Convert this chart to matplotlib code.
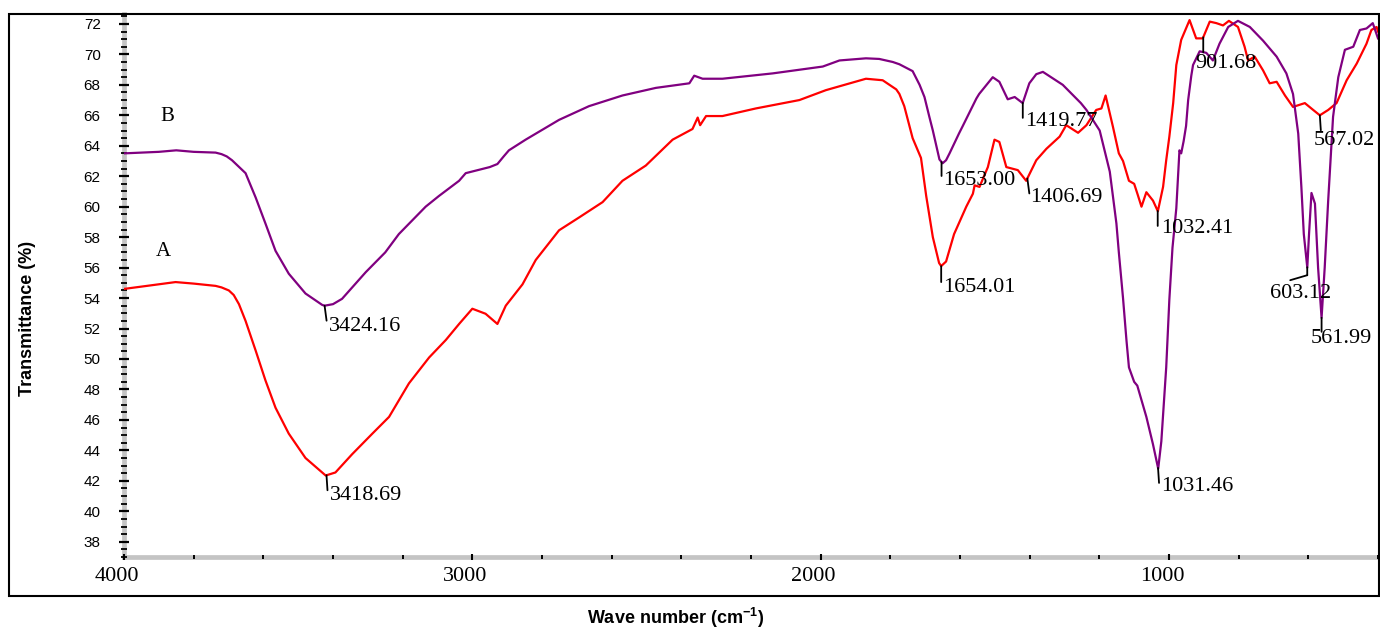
import numpy as np
import matplotlib
matplotlib.use("Agg")
import matplotlib.pyplot as plt
from matplotlib.patches import Rectangle
from matplotlib.ticker import MultipleLocator, NullFormatter
from matplotlib.transforms import offset_copy, blended_transform_factory

# ---------------- data ----------------
wn_B = [4000, 3950, 3900, 3850, 3800, 3737, 3720, 3705, 3690, 3651, 3622, 3594, 3565, 3527,
        3479, 3431, 3424, 3400, 3374, 3306, 3250, 3211, 3134, 3096, 3038, 3019, 2950, 2928,
        2910, 2895, 2847, 2751, 2665, 2569, 2473, 2377, 2363, 2339, 2282, 2138, 1994, 1946,
        1870, 1832, 1793, 1774, 1736, 1716, 1702, 1688, 1678, 1659, 1650, 1640, 1630, 1603,
        1592, 1553, 1545, 1506, 1487, 1463, 1443, 1420, 1401, 1381, 1362, 1305, 1253, 1237,
        1199, 1170, 1151, 1144, 1132, 1122, 1115, 1100, 1091, 1065, 1046, 1031, 1022, 1008,
        999, 990, 979, 970, 965, 958, 951, 945, 936, 931, 912, 893, 874, 855, 830, 802, 768,
        730, 691, 663, 644, 629, 620, 613, 603, 598, 591, 581, 572, 562, 553, 543, 529, 514,
        495, 471, 452, 433, 415, 400]
T_B = [63.5, 63.55, 63.6, 63.7, 63.6, 63.55, 63.45, 63.3, 63.05, 62.2, 60.6, 58.9, 57.1, 55.6,
       54.3, 53.55, 53.5, 53.6, 53.95, 55.7, 57.0, 58.2, 60.0, 60.7, 61.7, 62.2, 62.6, 62.8,
       63.3, 63.7, 64.4, 65.7, 66.6, 67.3, 67.8, 68.1, 68.6, 68.4, 68.4, 68.75, 69.2, 69.6,
       69.74, 69.7, 69.5, 69.35, 68.9, 68.0, 67.2, 65.9, 65.0, 63.1, 62.85, 63.05, 63.5, 64.8,
       65.3, 67.1, 67.4, 68.5, 68.2, 67.05, 67.2, 66.8, 68.1, 68.7, 68.85, 68.0, 66.8, 66.35,
       65.0, 62.3, 58.9, 57.0, 54.0, 51.2, 49.45, 48.5, 48.25, 46.2, 44.4, 42.8, 44.6, 49.45,
       53.9, 57.3, 59.9, 63.7, 63.5, 64.3, 65.3, 67.0, 68.6, 69.3, 70.2, 70.1, 69.6, 70.7, 71.8, 72.2, 71.8,
       70.9, 69.85, 68.75, 67.4, 64.8, 61.3, 58.2, 56.0, 58.2, 60.9, 60.2, 56.0, 52.7, 56.0, 60.4, 65.9, 68.5,
       70.3, 70.5, 71.6, 71.7, 72.05, 71.05]

wn_A = [4000, 3852, 3800, 3737, 3720, 3699, 3685, 3670, 3651, 3622, 3594, 3565, 3527, 3479,
        3421, 3393, 3345, 3287, 3239, 3182, 3124, 3076, 3038, 3000, 2962, 2928, 2904, 2856,
        2818, 2751, 2693, 2626, 2569, 2502, 2425, 2368, 2353, 2346, 2329, 2282, 2186, 2061,
        1985, 1870, 1822, 1783, 1774, 1760, 1736, 1712, 1697, 1678, 1660, 1654, 1640, 1617,
        1582, 1563, 1558, 1544, 1520, 1501, 1487, 1467, 1434, 1410, 1381, 1352, 1314, 1295,
        1261, 1237, 1209, 1194, 1182, 1161, 1144, 1132, 1115, 1100, 1090, 1079, 1065, 1046,
        1032, 1017, 1008, 999, 988, 979, 965, 941, 922, 903, 883, 864, 845, 828, 802, 783, 773,
        754, 730, 711, 691, 667, 644, 610, 586, 567, 543, 519, 490, 461, 433, 419, 404, 400]
T_A = [54.6, 55.05, 54.95, 54.8, 54.7, 54.5, 54.2, 53.6, 52.5, 50.55, 48.6, 46.8, 45.1, 43.5,
       42.35, 42.55, 43.75, 45.1, 46.2, 48.4, 50.1, 51.25, 52.3, 53.3, 52.97, 52.3, 53.5, 54.9,
       56.5, 58.45, 59.3, 60.3, 61.7, 62.7, 64.4, 65.1, 65.85, 65.35, 65.95, 65.95, 66.45, 67.0,
       67.65, 68.4, 68.3, 67.7, 67.4, 66.6, 64.5, 63.2, 60.7, 58.0, 56.3, 56.1, 56.4, 58.2,
       60.0, 60.85, 61.4, 61.3, 62.6, 64.4, 64.25, 62.6, 62.4, 61.7, 63.05, 63.8, 64.6, 65.35,
       64.85, 65.35, 66.35, 66.45, 67.3, 65.25, 63.5, 63.0, 61.7, 61.5, 60.8, 60.0, 60.95, 60.4,
       59.7, 61.3, 63.05, 64.6, 66.8, 69.3, 70.95, 72.25, 71.05, 71.05, 72.15, 72.05, 71.9, 72.2, 71.8, 70.5, 69.6,
       69.85, 68.95, 68.1, 68.2, 67.3, 66.55, 66.8, 66.35, 66.0, 66.35, 66.8, 68.3, 69.4, 70.7, 71.6, 71.8, 71.5]

series_names = ["A", "B"]
peak_series = ["B", "A", "A", "B", "B", "A", "A", "B", "A", "A", "B", "B"]
peak_wn = [3424.16, 3418.69, 1654.01, 1653.00, 1419.77, 1406.69, 1032.41, 1031.46,
           901.68, 567.02, 603.12, 561.99]
peak_labels = ["3424.16", "3418.69", "1654.01", "1653.00", "1419.77", "1406.69", "1032.41",
               "1031.46", "901.68", "567.02", "603.12", "561.99"]

x_ticks = [4000, 3000, 2000, 1000]
y_ticks = list(range(38, 73, 2))

# ---------------- styling ----------------
plt.rcParams['mathtext.fontset'] = 'custom'
plt.rcParams['mathtext.rm'] = 'Liberation Sans:bold'
plt.rcParams['mathtext.bf'] = 'Liberation Sans:bold'
plt.rcParams['mathtext.it'] = 'Liberation Sans:bold'

col = {"A": "#ff0000", "B": "#800080"}
line_offsets = [
    [(0, 0), (2, -15)], [(0, 0), (1, -15)], [(0, 0), (0, -16)], [(0, 0), (0, -14)],
    [(0, 0), (0, -15)], [(0, 0), (2, -15)], [(0, 0), (0, -15)], [(0, 0), (1, -15)],
    [(0, 0), (0, -15)], [(0, 0), (1, -15)], [(0, 0), (0, -8), (-17, -13)], [(0, 0), (0, -14)],
]
text_offsets = [(4, -21), (3, -20), (2, -21), (2, -19), (2, -19), (3, -19), (3, -18), (3, -19),
                (-8, -26), (-6, -25), (-37, -26), (-11, -21)]

W, H = 1380, 630
fig = plt.figure(figsize=(W / 100, H / 100), dpi=100)
ax = fig.add_axes([124 / W, 1 - 557 / H, (1378 - 124) / W, (557 - 14) / H])

data = {"A": (np.array(wn_A, float), np.array(T_A, float)),
        "B": (np.array(wn_B, float), np.array(T_B, float))}
for name in series_names:
    x, y = data[name]
    ax.plot(x, y, color=col[name], lw=1.6, solid_joinstyle='round', zorder=3)

ax.set_xlim(4000, 400)
ax.set_ylim(37.0, 72.65)
ax.set_xticks(x_ticks)
ax.xaxis.set_major_formatter(NullFormatter())
ax.xaxis.set_minor_locator(MultipleLocator(200))
ax.set_yticks(y_ticks)
ax.set_yticklabels([str(t) for t in y_ticks], family='Liberation Sans', fontsize=11)
ax.yaxis.set_minor_locator(MultipleLocator(0.5))

# x tick labels drawn slightly left of their ticks, as in the original
xlab_tr = offset_copy(blended_transform_factory(ax.transData, ax.transAxes),
                      fig=fig, x=-7, y=-10, units='dots')
for t in x_ticks:
    ax.text(t, 0, str(t), transform=xlab_tr, ha='center', va='top',
            fontsize=16, family='Liberation Serif', clip_on=False)

for s in ['top', 'right']:
    ax.spines[s].set_visible(False)
for s in ['left', 'bottom']:
    ax.spines[s].set_color('#c4c4c4')
    ax.spines[s].set_linewidth(3.4)
    ax.spines[s].set_zorder(1)

ax.tick_params(axis='y', which='major', direction='inout', length=7.5, width=1.6,
               color='black', pad=13)
ax.tick_params(axis='y', which='minor', direction='inout', length=4.0, width=1.3,
               color='black')
ax.tick_params(axis='x', which='major', direction='inout', length=4.5, width=1.5,
               color='black')
ax.tick_params(axis='x', which='minor', direction='inout', length=2.5, width=1.4,
               color='black')

# peak annotations
for name, wn, lab, segs, toff in zip(peak_series, peak_wn, peak_labels, line_offsets, text_offsets):
    x, y = data[name]
    yv = float(np.interp(wn, x[::-1], y[::-1]))
    for (x0, y0), (x1, y1) in zip(segs[:-1], segs[1:]):
        tr = offset_copy(ax.transData, fig=fig, x=x0, y=y0, units='dots')
        ax.annotate('', xy=(wn, yv), xycoords=tr, xytext=(x1 - x0, y1 - y0),
                    textcoords='offset pixels',
                    arrowprops=dict(arrowstyle='-', color='black', lw=1.3,
                                    shrinkA=0, shrinkB=0), zorder=4)
    ax.annotate(lab, xy=(wn, yv), xytext=toff, textcoords='offset pixels',
                ha='left', va='center', fontsize=16, family='Liberation Serif',
                color='black', zorder=5)

ax.text(3886, 57.07, "A", ha='center', va='center', fontsize=15, family='Liberation Serif')
ax.text(3877, 65.9, "B", ha='center', va='center', fontsize=15, family='Liberation Serif')

# outer frame
fig.patches.append(Rectangle((9.3 / W, 1 - 596 / H), (1379 - 9.3) / W, (596 - 14) / H,
                             transform=fig.transFigure, fill=False, edgecolor='black',
                             lw=1.5, zorder=10))

fig.text(28 / W, 1 - 318 / H, "Transmittance (%)", rotation=90, ha='center', va='center',
         fontsize=13, fontweight='bold', family='Liberation Sans')
fig.text(676 / W, 1 - 618 / H, r"Wave number (cm$^{-1}$)", ha='center', va='center',
         fontsize=13, fontweight='bold', family='Liberation Sans')

fig.savefig("out.png", dpi=100)
